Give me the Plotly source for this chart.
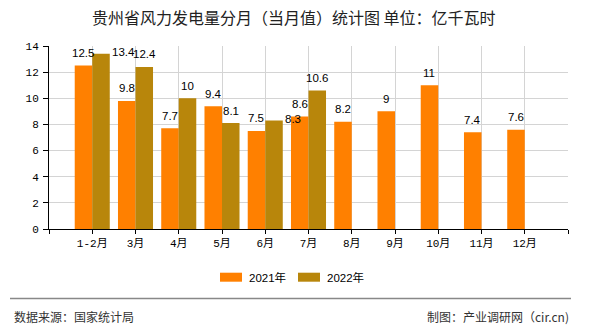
import plotly.graph_objects as go

# ---- data ----
categories = ["1-2月", "3月", "4月", "5月", "6月", "7月", "8月", "9月", "10月", "11月", "12月"]
series_names = ["2021年", "2022年"]
values_2021 = [12.5, 9.8, 7.7, 9.4, 7.5, 8.6, 8.2, 9, 11, 7.4, 7.6]
values_2022 = [13.4, 12.4, 10, 8.1, 8.3, 10.6, None, None, None, None, None]
y_ticks = [0, 2, 4, 6, 8, 10, 12, 14]

title_text = "贵州省风力发电量分月（当月值）统计图 单位：亿千瓦时"
source_text = "数据来源：国家统计局"
credit_text = "制图：产业调研网（cir.cn)"

colors = ["#FF8000", "#B8860B"]

W, H = 590, 330
ML, MR, MT, MB = 49, 22, 46, 101
PW, PH = W - ML - MR, H - MT - MB

def px_x(px):
    return (px - ML) / PW

def px_y(py):
    return (H - MB - py) / PH

xpos = list(range(1, len(categories) + 1))
half = 0.2025
all_series = [values_2021, values_2022]

fig = go.Figure()
for k, (name, vals) in enumerate(zip(series_names, all_series)):
    fig.add_trace(go.Bar(
        x=xpos, y=vals, name=name, marker=dict(color=colors[k], line=dict(width=0)),
        showlegend=False,
    ))

label_font = dict(family="Liberation Sans, Noto Sans CJK SC", size=11.5, color="#000")
# labels that sit beside the bar top (series index, point index)
beside = {(1, 0), (1, 4)}
annotations = []
for k, vals in enumerate(all_series):
    sign = -1 if k == 0 else 1
    for i, v in enumerate(vals):
        if v is None:
            continue
        txt = f"{v:g}"
        if (k, i) in beside:
            annotations.append(dict(
                x=xpos[i] + sign * 2 * half, y=v, xref="x", yref="y", text=txt,
                showarrow=False, xanchor="left", yanchor="middle", yshift=2,
                font=label_font,
            ))
        else:
            annotations.append(dict(
                x=xpos[i] + sign * half, y=v, xref="x", yref="y", text=txt,
                showarrow=False, xanchor="center", yanchor="middle", yshift=12.5,
                font=label_font,
            ))

# title
annotations.append(dict(
    x=px_x(294), y=px_y(17.5), xref="paper", yref="paper", text=title_text,
    showarrow=False, xanchor="center", yanchor="middle",
    font=dict(family="Noto Sans CJK SC", size=16, color="#222"),
))

# manual legend
shapes = []
leg_items = [(220, 247), (298, 325)]
for k, (sx, tx) in enumerate(leg_items):
    shapes.append(dict(type="rect", xref="paper", yref="paper",
                       x0=px_x(sx), x1=px_x(sx + 22), y0=px_y(281.7), y1=px_y(272.7),
                       fillcolor=colors[k], line=dict(width=0)))
    annotations.append(dict(
        x=px_x(tx), y=px_y(277.3), xref="paper", yref="paper", text=series_names[k],
        showarrow=False, xanchor="left", yanchor="middle",
        font=dict(family="Liberation Sans, Noto Sans CJK SC", size=11.5, color="#000"),
    ))

# footer
shapes.append(dict(type="line", xref="paper", yref="paper",
                   x0=px_x(10), x1=px_x(571), y0=px_y(298.5), y1=px_y(298.5),
                   line=dict(color="#888888", width=1.5)))
annotations.append(dict(
    x=px_x(12), y=px_y(316.5), xref="paper", yref="paper", text=source_text,
    showarrow=False, xanchor="left", yanchor="middle",
    font=dict(family="Noto Sans CJK SC", size=12, color="#333"),
))
annotations.append(dict(
    x=px_x(571), y=px_y(316.5), xref="paper", yref="paper", text=credit_text,
    showarrow=False, xanchor="right", yanchor="middle",
    font=dict(family="Noto Sans CJK SC", size=12, color="#333"),
))

tick_font = dict(family="Liberation Mono, Noto Sans CJK SC", size=11, color="#000")

fig.update_layout(
    width=W, height=H,
    margin=dict(l=ML, r=MR, t=MT, b=MB, pad=0),
    paper_bgcolor="white", plot_bgcolor="white",
    barmode="group", bargap=0.19, bargroupgap=0,
    annotations=annotations, shapes=shapes,
    showlegend=False,
    xaxis=dict(
        range=[0, len(categories) + 1],
        tickmode="array",
        tickvals=list(range(0, len(categories) + 2)),
        ticktext=[""] + categories + [""],
        ticks="outside", ticklen=4, tickcolor="#000", tickwidth=1,
        showline=True, linecolor="#000", linewidth=1,
        showgrid=True, gridcolor="#d4d4d4", gridwidth=1,
        zeroline=False, tickfont=tick_font, fixedrange=True,
    ),
    yaxis=dict(
        range=[0, 14],
        tickmode="array", tickvals=y_ticks,
        ticks="outside", ticklen=5, tickcolor="#000", tickwidth=1,
        showline=True, linecolor="#000", linewidth=1,
        showgrid=True, gridcolor="#d4d4d4", gridwidth=1,
        zeroline=False, tickfont=tick_font, ticklabelstandoff=2, fixedrange=True,
    ),
)

fig.write_html("out.html", config={"displayModeBar": False})
